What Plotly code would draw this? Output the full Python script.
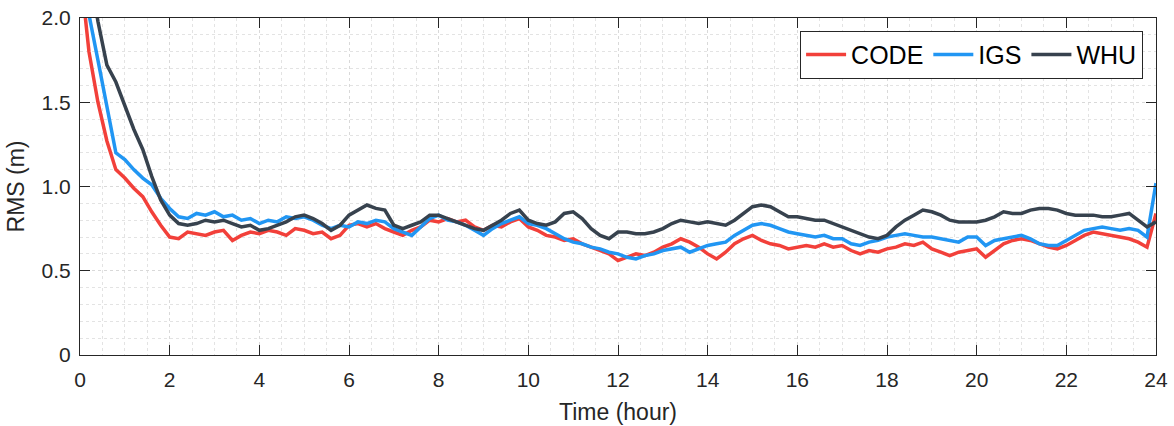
import plotly.graph_objects as go

hours = [round(i * 0.2, 1) for i in range(121)]

code_rms = [2.30, 1.80, 1.50, 1.27, 1.10, 1.05, 0.99, 0.94, 0.85, 0.77,
            0.70, 0.69, 0.73, 0.72, 0.71, 0.73, 0.74, 0.68, 0.71, 0.73,
            0.72, 0.74, 0.73, 0.71, 0.75, 0.74, 0.72, 0.73, 0.69, 0.71,
            0.77, 0.78, 0.76, 0.78, 0.75, 0.73, 0.71, 0.74, 0.76, 0.80,
            0.79, 0.81, 0.79, 0.80, 0.76, 0.74, 0.77, 0.76, 0.79, 0.81,
            0.76, 0.74, 0.71, 0.70, 0.68, 0.69, 0.66, 0.64, 0.62, 0.60,
            0.56, 0.58, 0.60, 0.59, 0.61, 0.64, 0.66, 0.69, 0.67, 0.64,
            0.60, 0.57, 0.61, 0.66, 0.69, 0.71, 0.68, 0.66, 0.65, 0.63,
            0.64, 0.65, 0.64, 0.66, 0.64, 0.65, 0.62, 0.60, 0.62, 0.61,
            0.63, 0.64, 0.66, 0.65, 0.67, 0.63, 0.61, 0.59, 0.61, 0.62,
            0.63, 0.58, 0.62, 0.66, 0.68, 0.69, 0.68, 0.66, 0.64, 0.63,
            0.65, 0.68, 0.71, 0.73, 0.72, 0.71, 0.70, 0.69, 0.67, 0.64,
            0.84]

igs_rms = [2.60, 2.02, 1.75, 1.47, 1.20, 1.16, 1.10, 1.05, 1.01, 0.93,
           0.87, 0.82, 0.81, 0.84, 0.83, 0.85, 0.82, 0.83, 0.80, 0.81,
           0.78, 0.80, 0.79, 0.82, 0.81, 0.82, 0.80, 0.77, 0.75, 0.77,
           0.76, 0.79, 0.78, 0.80, 0.79, 0.75, 0.73, 0.71, 0.76, 0.81,
           0.83, 0.80, 0.79, 0.77, 0.74, 0.71, 0.75, 0.78, 0.80, 0.82,
           0.78, 0.77, 0.75, 0.72, 0.69, 0.67, 0.66, 0.64, 0.63, 0.61,
           0.60, 0.58, 0.57, 0.59, 0.60, 0.62, 0.63, 0.64, 0.61, 0.63,
           0.65, 0.66, 0.67, 0.71, 0.74, 0.77, 0.78, 0.77, 0.75, 0.73,
           0.72, 0.71, 0.70, 0.71, 0.69, 0.69, 0.66, 0.65, 0.67, 0.68,
           0.70, 0.71, 0.72, 0.71, 0.70, 0.70, 0.69, 0.68, 0.67, 0.70,
           0.70, 0.65, 0.68, 0.69, 0.70, 0.71, 0.69, 0.66, 0.65, 0.65,
           0.68, 0.71, 0.74, 0.75, 0.76, 0.75, 0.74, 0.75, 0.74, 0.70,
           1.02]

whu_rms = [2.80, 2.30, 1.98, 1.72, 1.62, 1.48, 1.34, 1.22, 1.06, 0.92,
           0.83, 0.78, 0.77, 0.78, 0.80, 0.79, 0.80, 0.78, 0.76, 0.77,
           0.74, 0.75, 0.77, 0.79, 0.82, 0.83, 0.81, 0.78, 0.74, 0.77,
           0.83, 0.86, 0.89, 0.87, 0.86, 0.77, 0.75, 0.77, 0.79, 0.83,
           0.83, 0.81, 0.79, 0.77, 0.75, 0.74, 0.77, 0.80, 0.84, 0.86,
           0.80, 0.78, 0.77, 0.79, 0.84, 0.85, 0.81, 0.75, 0.71, 0.69,
           0.73, 0.73, 0.72, 0.72, 0.73, 0.75, 0.78, 0.80, 0.79, 0.78,
           0.79, 0.78, 0.77, 0.80, 0.84, 0.88, 0.89, 0.88, 0.85, 0.82,
           0.82, 0.81, 0.80, 0.80, 0.78, 0.76, 0.74, 0.72, 0.70, 0.69,
           0.71, 0.76, 0.80, 0.83, 0.86, 0.85, 0.83, 0.80, 0.79, 0.79,
           0.79, 0.80, 0.82, 0.85, 0.84, 0.84, 0.86, 0.87, 0.87, 0.86,
           0.84, 0.83, 0.83, 0.83, 0.82, 0.82, 0.83, 0.84, 0.80, 0.76,
           0.79]

series_names = ["CODE", "IGS", "WHU"]
series_values = [code_rms, igs_rms, whu_rms]
series_colors = ["#F2403A", "#2196F3", "#37424E"]

x_ticks = list(range(0, 25, 2))
y_ticks = [0, 0.5, 1.0, 1.5, 2.0]
y_tick_labels = ["0", "0.5", "1.0", "1.5", "2.0"]

FONT = "Liberation Sans, Arial, Helvetica, sans-serif"

fig = go.Figure()
for name, vals, col in zip(series_names, series_values, series_colors):
    fig.add_trace(go.Scatter(x=hours, y=vals, mode="lines", name=name,
                             line=dict(color=col, width=3.5)))

axis_common = dict(
    showline=True, linecolor="#262626", linewidth=1, mirror="ticks",
    ticks="inside", ticklen=10, tickcolor="#262626", tickwidth=1,
    showgrid=True, gridcolor="#D9D9D9", griddash="dot", gridwidth=1,
    zeroline=False, automargin=False, ticklabeloverflow="allow",
    tickfont=dict(family=FONT, size=21, color="#262626"),
)

fig.update_xaxes(
    range=[0, 24], tickvals=x_ticks, ticklabelstandoff=6,
    title=dict(text="Time (hour)", font=dict(family=FONT, size=23, color="#262626"), standoff=13),
    minor=dict(dtick=0.5, tick0=0, showgrid=True, gridcolor="#E3E3E3", griddash="dot", ticks=""),
    **axis_common)
fig.update_yaxes(
    range=[0, 2.0], tickvals=y_ticks, ticktext=y_tick_labels, ticklabelstandoff=4,
    title=dict(text="RMS (m)", font=dict(family=FONT, size=23, color="#262626"), standoff=10),
    minor=dict(dtick=0.1, tick0=0, showgrid=True, gridcolor="#E3E3E3", griddash="dot", ticks=""),
    **axis_common)

fig.update_layout(
    width=1174, height=426,
    margin=dict(l=80, r=18, t=18, b=71),
    paper_bgcolor="white", plot_bgcolor="white",
    legend=dict(orientation="h", x=0.988, y=0.962, xanchor="right", yanchor="top",
                bgcolor="white", bordercolor="#262626", borderwidth=1,
                font=dict(family=FONT, size=25, color="#000000"),
                itemwidth=40, tracegroupgap=0),
    showlegend=True,
)

fig.write_html("out.html",
               config={"displayModeBar": False},
               post_script="document.body.style.margin='0';document.body.style.overflow='hidden';")
